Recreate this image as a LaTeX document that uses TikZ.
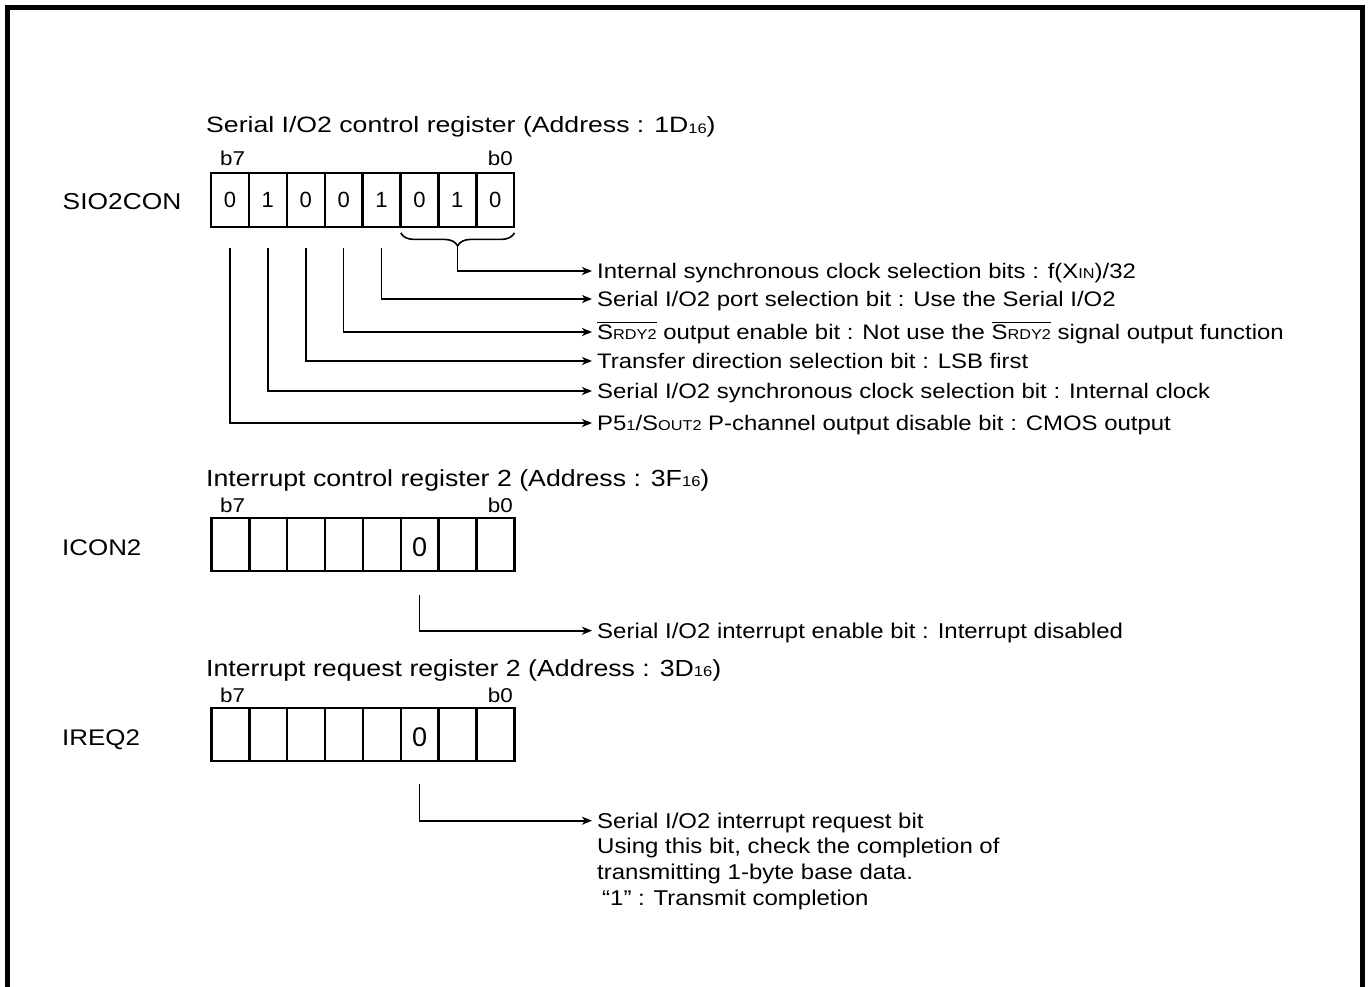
\documentclass[tikz,border=0pt]{standalone}
\usepackage{graphicx}
\usepackage{fontspec}
\setmainfont{Liberation Sans}
\newfontfamily\fUL[FakeStretch=1.14]{Liberation Sans}
\newfontfamily\fUT[FakeStretch=1.2]{Liberation Sans}
\newfontfamily\fLL[FakeStretch=1.12]{Liberation Sans}
\newfontfamily\fLT[FakeStretch=1.146]{Liberation Sans}
\usetikzlibrary{arrows.meta,decorations.pathreplacing,calc}
\newcommand\smtxt[1]{\scalebox{0.68}{#1}}
\newcommand\subsix{\raisebox{-0.5pt}{\scalebox{0.62}{16}}}
\newcommand\ovl[1]{\leavevmode\vbox{\hrule height 0.9pt\kern 2.2pt\hbox{#1}}}
\begin{document}
\begin{tikzpicture}[x=1pt,y=-1pt,
  frame/.style={line width=5.5pt},
  cell/.style={draw, line width=2.4pt, minimum width=37.9pt, minimum height=54pt, inner sep=0pt},
  ucell/.style={cell, font=\rmfamily\fontsize{22pt}{26pt}\selectfont},
  lcell/.style={cell, minimum height=53pt, text height=24.3pt, text depth=0pt, font=\rmfamily\fontsize{27pt}{30pt}\selectfont},
  conn/.style={line width=1.6pt},
  arr/.style={conn, -{Stealth[length=10pt,width=8pt,inset=2.8pt]}},
  ulab/.style={anchor=west, inner xsep=5pt, inner ysep=0pt, text height=15pt, text depth=0pt, font=\fUL\fontsize{21pt}{25pt}\selectfont},
  llab/.style={anchor=west, inner xsep=5pt, inner ysep=0pt, text height=15.2pt, text depth=0pt, font=\fLL\fontsize{21.4pt}{25pt}\selectfont},
  lline/.style={anchor=base west, inner sep=0pt, font=\fLL\fontsize{21.4pt}{25pt}\selectfont},
  utitle/.style={anchor=base west, inner sep=0pt, font=\fUT\fontsize{22.2pt}{26pt}\selectfont},
  ltitle/.style={anchor=base west, inner sep=0pt, font=\fLT\fontsize{23.3pt}{27pt}\selectfont},
  uname/.style={anchor=base west, inner sep=0pt, font=\fLT\fontsize{23pt}{26pt}\selectfont},
  lname/.style={anchor=base west, inner sep=0pt, font=\fLT\fontsize{22.6pt}{26pt}\selectfont},
  bitlab/.style={inner sep=0pt, font=\fLL\fontsize{20pt}{24pt}\selectfont}
]
\useasboundingbox (0,0) rectangle (1370,987);
% frame (open at the bottom)
\draw[frame] (7.5,992) -- (7.5,7.5) -- (1362.5,7.5) -- (1362.5,992);

% ---------------- SIO2CON ----------------
\node[utitle] (t1) at (206,133) {Serial I/O2 control register (Address : 1D\subsix)};
\node[bitlab, anchor=base west] (t1b7) at (220,166) {b7};
\node[bitlab, anchor=base east] (t1b0) at (513,166) {b0};
\node[uname] (n1) at (62.5,210) {SIO2CON};
\foreach \i/\v in {7/0,6/1,5/0,4/0,3/1,2/0,1/1,0/0}
  \node[ucell] (s\i) at ({211+37.9*(7.5-\i)},200) {\v};

\draw[conn, decorate, decoration={brace, amplitude=13pt}]
  ([xshift=-1pt,yshift=-4.7pt]s0.south east) -- ([xshift=1.5pt,yshift=-4.7pt]s2.south west);
\coordinate (bt) at ($(s1.south)+(0,18)$);

\node[ulab] (u1) at (592,271) {Internal synchronous clock selection bits : f(X\smtxt{IN})/32};
\node[ulab] (u2) at (592,299) {Serial I/O2 port selection bit : Use the Serial I/O2};
\node[ulab] (u3) at (592,332) {\ovl{S\smtxt{RDY2}} output enable bit : Not use the \ovl{S\smtxt{RDY2}} signal output function};
\node[ulab] (u4) at (592,361) {Transfer direction selection bit : LSB first};
\node[ulab] (u5) at (592,391) {Serial I/O2 synchronous clock selection bit : Internal clock};
\node[ulab] (u6) at (592,423) {P5\smtxt{1}/S\smtxt{OUT2} P-channel output disable bit : CMOS output};

\draw[arr] (bt) |- (u1.west);
\draw[arr] ([yshift=-20pt]s3.south) |- (u2.west);
\draw[arr] ([yshift=-20pt]s4.south) |- (u3.west);
\draw[arr] ([yshift=-20pt]s5.south) |- (u4.west);
\draw[arr] ([yshift=-20pt]s6.south) |- (u5.west);
\draw[arr] ([yshift=-20pt]s7.south) |- (u6.west);

% ---------------- ICON2 ----------------
\node[ltitle] (t2) at (206,486) {Interrupt control register 2 (Address : 3F\subsix)};
\node[bitlab, anchor=base west] (t2b7) at (220,512) {b7};
\node[bitlab, anchor=base east] (t2b0) at (513,512) {b0};
\node[lname] (n2) at (62,555) {ICON2};
\foreach \i/\v in {7/,6/,5/,4/,3/,2/0,1/,0/}
  \node[lcell] (i\i) at ({211.5+37.85*(7.5-\i)},544.5) {\v};
\node[llab] (il) at (592,630.7) {Serial I/O2 interrupt enable bit : Interrupt disabled};
\draw[arr] ([yshift=-23pt]i2.south) |- (il.west);

% ---------------- IREQ2 ----------------
\node[ltitle] (t3) at (206,676) {Interrupt request register 2 (Address : 3D\subsix)};
\node[bitlab, anchor=base west] (t3b7) at (220,702) {b7};
\node[bitlab, anchor=base east] (t3b0) at (513,702) {b0};
\node[lname] (n3) at (62,745) {IREQ2};
\foreach \i/\v in {7/,6/,5/,4/,3/,2/0,1/,0/}
  \node[lcell] (r\i) at ({211.5+37.85*(7.5-\i)},734.5) {\v};
\node[llab] (q1) at (592,820.7) {Serial I/O2 interrupt request bit};
\node[lline] (q2) at (597,853.9) {Using this bit, check the completion of};
\node[lline] (q3) at (597,879.6) {transmitting 1-byte base data.};
\node[lline] (q4) at (597,905.3) {\hspace*{5pt}“1” : Transmit completion};
\draw[arr] ([yshift=-22pt]r2.south) |- (q1.west);
\end{tikzpicture}
\end{document}
